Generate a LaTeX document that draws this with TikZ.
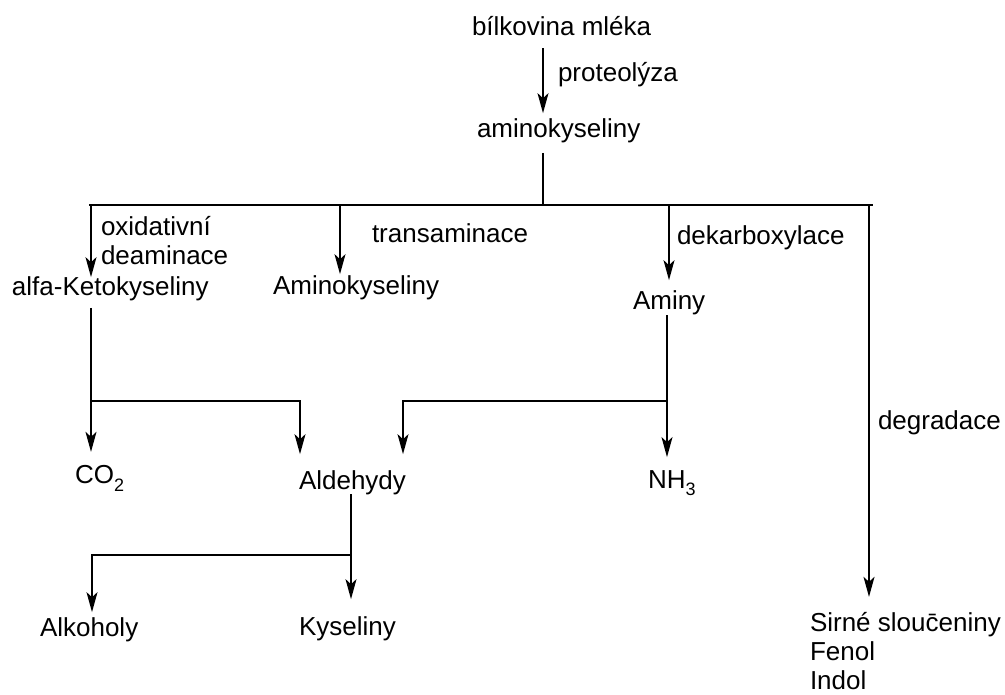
\documentclass[tikz,border=0pt]{standalone}
\usepackage{fontspec}
\setmainfont{Liberation Sans}
\usetikzlibrary{arrows.meta}
\begin{document}
\begin{tikzpicture}[x=1pt,y=-1pt,
  lbl/.style={anchor=base west, inner sep=0pt, outer sep=0pt, font=\fontsize{26}{29.5}\selectfont},
  ln/.style={line width=1.5pt},
  arr/.style={ln, -{Stealth[length=20pt,width=11pt,inset=5pt]}}]
\useasboundingbox (0,0) rectangle (1005,695);
% texts
\node[lbl] (bm) at (472,36) {bílkovina mléka};
\node[lbl] (ak) at (477,138) {aminokyseliny};
\node[lbl] (prot) at (558,82) {proteolýza};
\node[lbl, align=left] (oxd) at (101,265) {oxidativní\\deaminace};
\node[lbl] (ketok) at (12,296) {alfa-Ketokyseliny};
\node[lbl] (trans) at (372,243) {transaminace};
\node[lbl] (amk) at (273,295) {Aminokyseliny};
\node[lbl] (dek) at (677,245) {dekarboxylace};
\node[lbl] (aminy) at (633,310) {Aminy};
\node[lbl] (degr) at (878,429) {degradace};
\node[lbl] (co2) at (75,483) {CO\raisebox{-8pt}{\fontsize{18}{18}\selectfont 2}};
\node[lbl] (ald) at (299,489) {Aldehydy};
\node[lbl] (nh3) at (648,488) {NH\raisebox{-7pt}{\fontsize{18}{18}\selectfont 3}};
\node[lbl] (alk) at (40,636) {Alkoholy};
\node[lbl] (kys) at (299,635) {Kyseliny};
\node[lbl, align=left, font=\fontsize{26}{29}\selectfont] (sirne) at (810,689) {Sirné slouc̄eniny\\Fenol\\Indol};
% junctions
\coordinate (top) at (543,205);
\coordinate (hl) at (89,205);
\coordinate (hr) at (873,205);
\coordinate (b1) at (91,205);
\coordinate (b2) at (340,205);
\coordinate (b3) at (669,205);
\coordinate (b4) at (869,205);
\coordinate (j1) at (91,401);
\coordinate (j1r) at (300,401);
\coordinate (j2) at (667,401);
\coordinate (j2l) at (403,401);
\coordinate (j3) at (351,555);
\coordinate (j3l) at (92,555);
% connectors
\draw[arr, shorten <=12pt, shorten >=6pt] (top |- bm.south) -- (top |- ak.north);
\draw[ln, shorten <=9.5pt] (top |- ak.south) -- (top);
\draw[ln] (hl) -- (hr);
\draw[arr] (b1) -- (b1 |- ketok.north);
\draw[arr, shorten >=2pt] (b2) -- (b2 |- amk.north);
\draw[arr, shorten >=11pt] (b3) -- (b3 |- aminy.north);
\draw[arr, shorten >=15pt] (b4) -- (b4 |- sirne.north);
\draw[arr, shorten <=6.5pt, shorten >=13pt] (b1 |- ketok.south) -- (b1 |- co2.north);
\draw[arr, shorten >=16pt] (j1) -- (j1r) -- (j1r |- ald.north);
\draw[arr, shorten >=13pt] (j2 |- aminy.south) -- (j2 |- nh3.north);
\draw[arr, shorten >=16pt] (j2) -- (j2l) -- (j2l |- ald.north);
\draw[arr, shorten >=17pt] (j3 |- ald.south) -- (j3 |- kys.north);
\draw[arr, shorten >=5pt] (j3) -- (j3l) -- (j3l |- alk.north);
\end{tikzpicture}
\end{document}
